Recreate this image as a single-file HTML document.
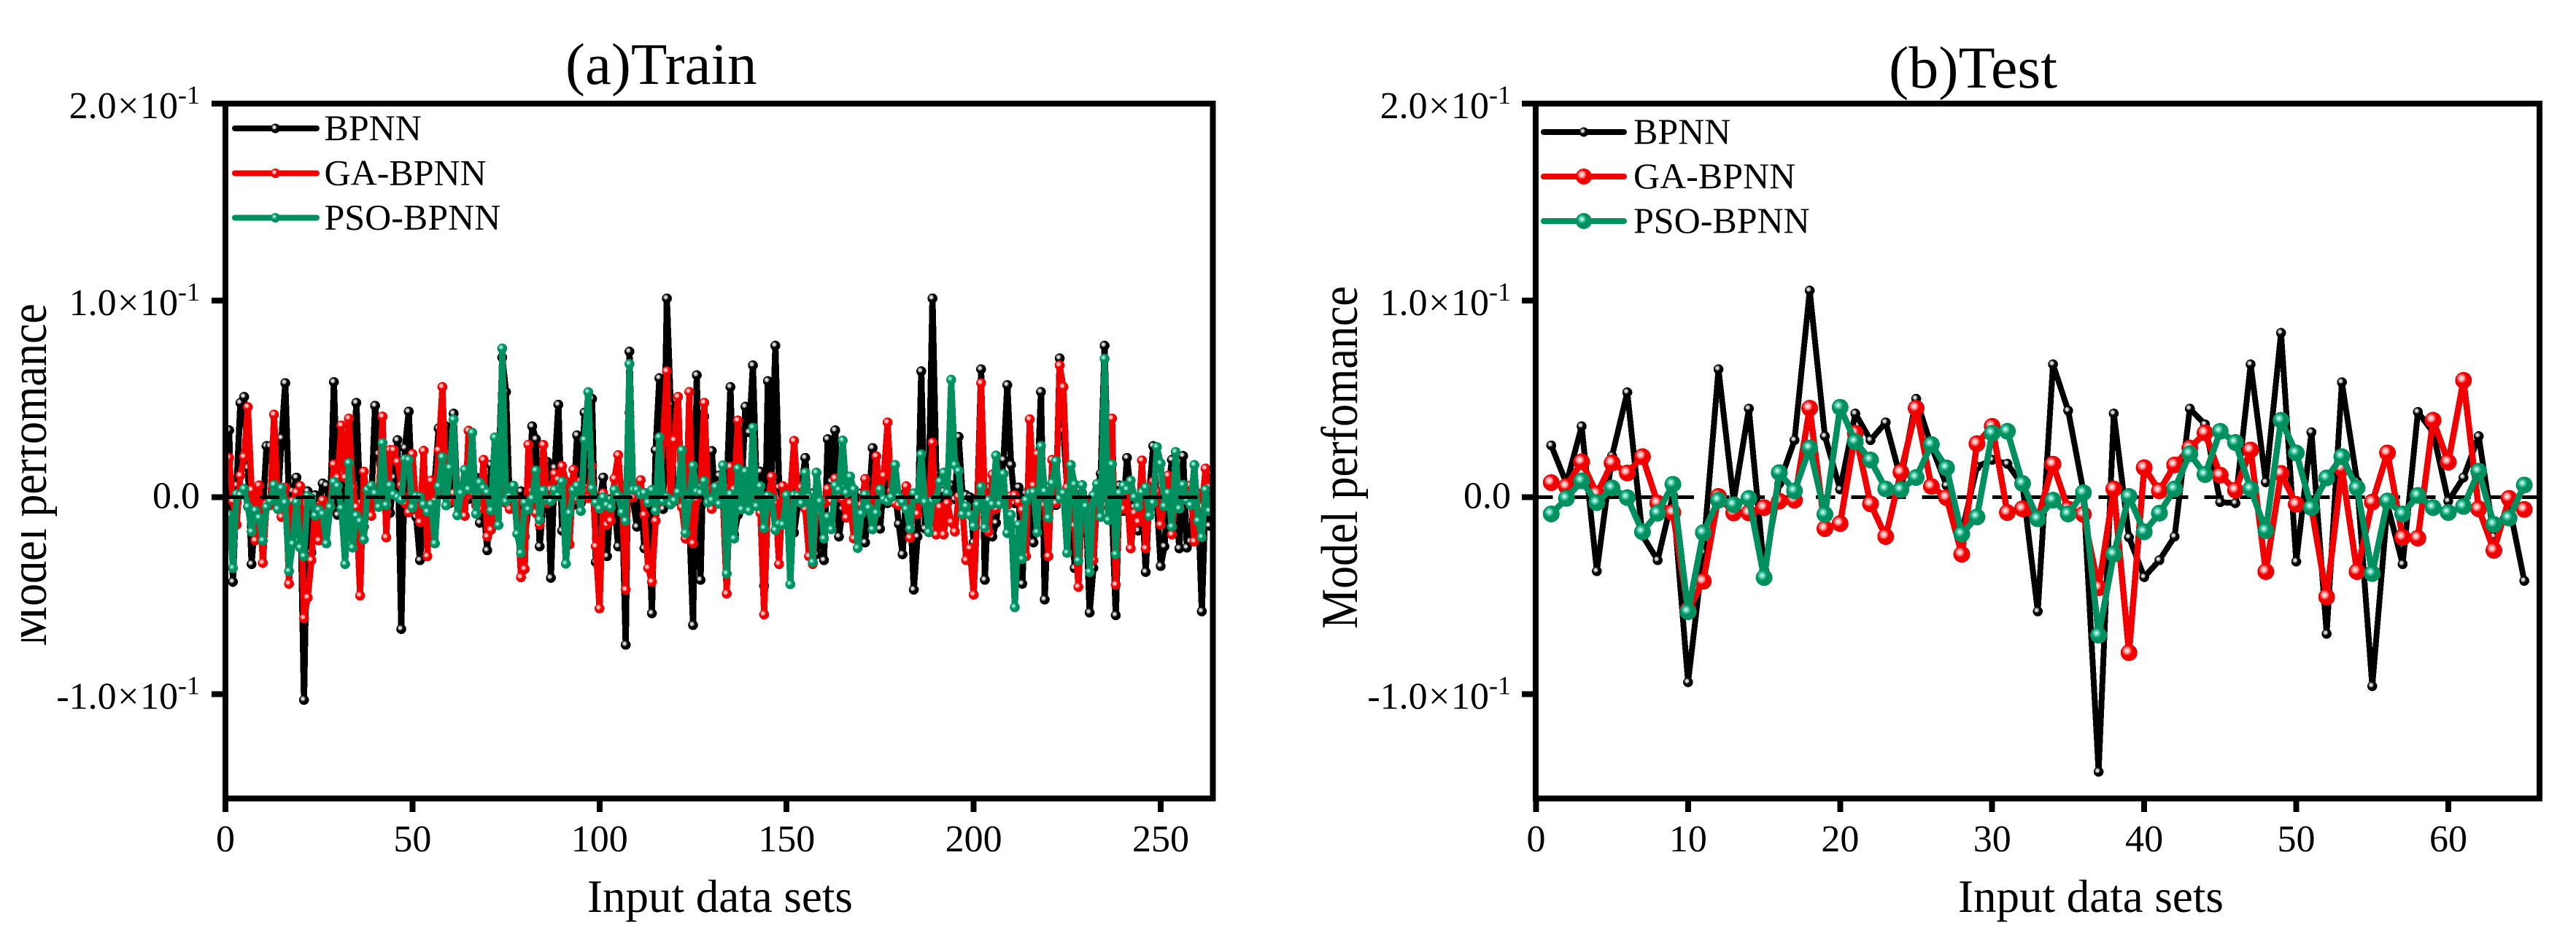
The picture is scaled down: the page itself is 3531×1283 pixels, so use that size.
<!DOCTYPE html>
<html lang="en">
<head>
<meta charset="utf-8">
<title>Model performance: Train and Test</title>
<style>
html,body{margin:0;padding:0;background:#fff;width:3531px;height:1283px;overflow:hidden}
svg{display:block}
text{font-family:"Liberation Serif",serif;fill:#000}
</style>
</head>
<body>
<svg id="chart" xmlns="http://www.w3.org/2000/svg" width="3531" height="1283" viewBox="0 0 3531 1283">
<defs>
<radialGradient id="gBlack" cx=".38" cy=".38" r=".3"><stop offset="0" stop-color="#fff"/><stop offset=".5" stop-color="#bbb"/><stop offset="1" stop-color="#000"/></radialGradient>
<radialGradient id="gRed" cx=".38" cy=".38" r=".3"><stop offset="0" stop-color="#fff"/><stop offset=".5" stop-color="#ffa0a0"/><stop offset="1" stop-color="#f00000"/></radialGradient>
<radialGradient id="gGreen" cx=".38" cy=".38" r=".3"><stop offset="0" stop-color="#fff"/><stop offset=".5" stop-color="#50d0b0"/><stop offset="1" stop-color="#008f5e"/></radialGradient>
<clipPath id="ylabelClipA"><rect x="29" y="300" width="120" height="700"/></clipPath>
</defs>
<rect x="0" y="0" width="3531" height="1283" fill="#fff"/>

<g id="panelA">
<text x="775" y="115" font-size="81">(a)Train</text>
<text x="805" y="1250" font-size="63">Input data sets</text>
<g clip-path="url(#ylabelClipA)">
<text transform="translate(63,886) rotate(-90) scale(1,1.15)" font-size="62">Model perfomance</text>
</g>
<g id="plotA" shape-rendering="crispEdges"></g>
<g fill="none" stroke="#000" shape-rendering="crispEdges">
<path stroke-width="8" d="M290 142H1666"/>
<path stroke-width="8" d="M305 1094.7H1666"/>
<path stroke-width="8" d="M309 138V1098"/>
<path stroke-width="8" d="M1662.5 138V1098"/>
</g>
<g id="ticksA"></g>
<g>
<g>
<path d="M322 176H434" stroke="#000" stroke-width="8" stroke-linecap="round"/>
<circle cx="377.5" cy="176" r="6.5" fill="url(#gBlack)"/>
<text x="444.5" y="192" font-size="50">BPNN</text>
</g>
<g>
<path d="M322 237.5H434" stroke="#f00000" stroke-width="8" stroke-linecap="round"/>
<circle cx="377.5" cy="237.5" r="6.5" fill="url(#gRed)"/>
<text x="444.5" y="253.5" font-size="50">GA-BPNN</text>
</g>
<g>
<path d="M322 298.5H434" stroke="#008f5e" stroke-width="8" stroke-linecap="round"/>
<circle cx="377.5" cy="298.5" r="6.5" fill="url(#gGreen)"/>
<text x="444.5" y="314.5" font-size="50">PSO-BPNN</text>
</g>
</g>
</g>

<g id="panelB">
<text x="2589" y="120" font-size="82">(b)Test</text>
<text x="2684" y="1250" font-size="63">Input data sets</text>
<text transform="translate(1860,862) rotate(-90) scale(1,1.15)" font-size="62">Model perfomance</text>
<g id="plotB" shape-rendering="crispEdges"></g>
<g fill="none" stroke="#000" shape-rendering="crispEdges">
<path stroke-width="8" d="M2086 142H3485"/>
<path stroke-width="8" d="M2101 1094.7H3485"/>
<path stroke-width="8" d="M2105 138V1098"/>
<path stroke-width="8" d="M3481 138V1098"/>
</g>
<g id="ticksB"></g>
<g>
<g>
<path d="M2116 181H2226" stroke="#000" stroke-width="8" stroke-linecap="round"/>
<circle cx="2171" cy="181" r="6.5" fill="url(#gBlack)"/>
<text x="2239" y="197" font-size="50">BPNN</text>
</g>
<g>
<path d="M2116 242H2226" stroke="#f00000" stroke-width="8" stroke-linecap="round"/>
<circle cx="2171" cy="242" r="11" fill="url(#gRed)"/>
<text x="2239" y="258" font-size="50">GA-BPNN</text>
</g>
<g>
<path d="M2116 303H2226" stroke="#008f5e" stroke-width="8" stroke-linecap="round"/>
<circle cx="2171" cy="303" r="11" fill="url(#gGreen)"/>
<text x="2239" y="319" font-size="50">PSO-BPNN</text>
</g>
</g>
</g>
</svg>

<script>
// All performance values are in units of 10^-3.
const trainBPNN = [
34,-43,6,48,51,15,-34,-8,6,-7,26,26,5,-3,30,58,-2,3,10,2,-103,3,-28,1,-4,7,6,-7,58.5,-9,12,-34,10,5,48,-3,-15,4,-3,46.5,22,-4,20,-8,
10,29,-67,25,43.5,-2,-10,-32,-6,-1,1,9,35,2,36,-3,42.5,-2,-4,5,-1,3,10,-13,-4,-27,16.5,-6,10,71,53.5,-4,3,-8,3,-20,-6,36,29.5,-25,-2,18,-41,15,
47,-17,4,2,-4,31.5,-3,43,5,50,-33,-2,10,-30,-1,-4,-25,1,-75,74,-2,-15,1,-26,-2,-59,24,60.5,-6,101,47,-2,3,5,-8,-12,-65,62,-42,41,-2,23.5,-3,11,
-2,5,56,-19,-9,5,46,33,67,3,13,-45,59,10,77,5,-3,-10,3,-18,-4,6,20,-5,2,-29,-3,-32,29.5,8,34,-20,-6,3,-3,1,-4,2,-23,-1,25,-4,-16,8,
-3,5,2,-13.6,-29,3,-2,-47,-20,64,-16,5,101,12,-5,3,0,6,-1,30.7,2,1,0,-23,-2,65,-42,5,-20,-13,4,19,57,16.5,-3,5,-44,2,-4,-23,4,53.5,-52,-2,
-2,-4,70.6,33.7,5,3,-36,-7,2,-4,-58.6,-36,3,12,77,3,-8,-60,6,-7,20,2,-5,-17,2,-38,3,26,-2,-35,-25,3,19,-3,-26,21,-25.6,-22.5,2,-3,-58,2,-14.5
];
const trainGA = [
20,-2,-14,11,20.5,45.8,3.7,-22,6,-33.4,-3.4,-4,42,-2,-10,5,-44,-2,2.5,5.7,-61.5,-51,-32,-5,-22,-1.5,-8,-4,16.7,10,36.5,10,40,5,-5,-50,13,-3,-9.5,3,2,41,-20.4,24,
24,18,6,-3,-7.7,22,-5,-12.6,23.6,-30,8.4,-2,23.9,56,3,-2,2,-3,3,-9.5,33.8,2,-4,-6,19,-20,-16.6,-3,2,6,-3,-6,1,-2,-40.7,-36.5,26.7,3,-8,-14,26.6,-3,4,12,
9,15.8,8,-24,14,-1,8,3,-0.5,15.8,-25,-56.5,2,-14,-12,9.5,21.4,-2,-47,43,0,3,8.7,-9,-36,-43,-12,3,30,64,-3,29,51,-5,-21,53.5,-23.4,-1,5,48,4,-6,-2,6,
-2,-49,15.5,4,39,5,-2,3,-4,2,-8,-59.6,-3,10.5,-3,-34,5.7,-5,1,28.6,1.6,5,-6,-30,-34,-5,-8,-3,4.3,-2,9.6,0,-1,-10.4,-3,-21,-5,-4,9.3,-2,-6,20.8,2,11,
38,3,-3,-4,-2,5.6,-20.6,-3,-8.5,2,3.5,-3,27.8,-19,-5,-19,-3,-12.6,-17.5,0.4,-5,-32,-26,-49.5,-6,58,-3,-17.5,11.5,-6,1,-1,-4,0.6,1,-2.4,-6.4,-30,39.6,6,22,-3,-4,-30,
19,-3,67,56,5,3,-14.5,-45.6,-3,-2,-7,-32,-2,4,-4,3,40,-44.5,1,-6,2,-26,-8,-12.5,18.7,-26,-3,8,2.8,-14,-2,11,-19,1,-4,-1,2,6,-22.5,2,-5,14.6,5
];
const trainPSO = [
-9,-36,1.6,1.2,4.3,-4.8,-17.5,-6.7,-10.4,-22,-5,-2,6.3,-6,4.7,-2.7,-37.6,-23.7,-2.5,-25.6,-30,0.6,-0.6,-9.3,-6.4,-8.5,-23.5,-5,7.8,5.7,-5.6,-34,17.4,-25.6,-9.3,-12.2,-21.5,3.8,5.9,2,-5,27.6,-4,6,
1.4,0.1,-1.2,19.3,19,-5.2,0.6,0.1,-3.7,-7.4,-3.6,-23.5,5.6,20.4,-4.2,15,39.5,-9.2,2.1,14,4,32.8,-8.5,7.5,4.7,2.5,-6.7,30.4,-14.2,75.6,-2.1,0.4,5.9,-18.6,-28.3,-2.7,-6.2,-0.6,13.6,-11.4,3.5,-1,-2,3.8,
0.6,8,-33.8,-8,3.7,5.9,-7,29.2,53.4,4.5,-2.7,-5.8,0,-4,-5.2,3.8,0.7,-7.7,-12,67.7,3.8,3.8,1.4,2.2,-2.7,3.7,-6.8,30.5,-1.9,0.1,-3.7,-1.7,2.6,23.9,-18.2,-0.9,16,2.8,2.2,8.3,-2.7,-1.5,5.3,-3.4,
16.2,-38.8,1.6,-21,14.6,-6.2,13.1,-6.8,35.4,-4.6,5.6,-15.7,0.7,-0.6,-16.7,-13.6,-13.9,1,-44.2,1,0.6,-3.1,12.5,0,-33,12.5,-2.1,-21,-10,-16.3,6,3.8,28.8,2.2,10.5,4,-25.8,-8.3,1.4,-5.4,-16.3,-8,4,-1,
-2,0,16.4,0.2,-2.4,-6,-16,2,-0.4,21.8,-2.5,-17.8,-1.9,-0.6,8,12.5,2.2,59.7,16.4,13.4,-8.7,-4.6,-9,-14.7,-3.8,5.3,-15.5,-1.5,-3.6,21.2,-3.6,11.9,-18.2,-9,-55.9,-13.9,-31.4,-1.5,2.2,2.6,-17.8,26,3,-10.5,
7.2,18.4,-0.6,2.1,-28.3,16.4,6.5,-32.2,6.2,-4.6,-38,1,6.8,-10,70.4,-11.6,16.7,-29,2.1,5.9,4,8.4,0,-4.6,2.6,5,-9.5,-2.8,25.5,17.2,-4.6,2.2,-15,23,-5.8,6.3,-1.5,-4,16.4,-12,-20.3,3.8,-7
];
const testBPNN = [26.3,7,36,-37.6,21,53.3,-19.5,-32,1,-94,-28,65,-2,45,-37,7,29,105,31,4,42.5,29,38,9,50,26,6,-18,15.5,19,17,6,-58,67.5,44,3,-139.5,42.5,-20.4,-40.6,-32,-20,45,37,-2.5,-3,67.5,7.6,83.5,-32.7,33,-69.4,58.4,8,-96,-4,-34,43.3,33,-2,10,31,-20,-4,-42.5];
const testGA = [7.4,5.5,18,1.7,17.4,12.3,20.6,-3,-7.8,-57.3,-42.7,0.4,-8,-8,-5.3,-2,-1.5,45.2,-16,-13.4,32.5,-3.4,-20,12.7,45.2,5.5,-0.2,-29,27.2,36,-7.8,-5.9,-11,16.8,-6,-8.7,-46,4.2,-79,15,3.2,16.4,25,32.7,11.2,3.6,24,-37.8,12.1,-3.6,-5.3,-50.7,14.6,-37.8,-2.5,22.5,-20.4,-20.8,39.1,17.8,59.4,-5.9,-27,-0.6,-6.2];
const testPSO = [-8.5,-0.6,8.3,-2.8,4.7,-0.2,-17.6,-8.1,6.6,-58.2,-18,-1.5,-3.8,-0.6,-40.8,12.5,3.2,25,-8.7,45.7,28.2,18.9,4.2,3.8,10,26.8,14.9,-18.7,-10,32.5,33.5,7,-11,-1.5,-8.5,2.3,-70.1,-28.9,0.4,-17.6,-8.1,4.2,22.1,11.5,33.5,27.8,4.2,-17,39.1,22.5,-5.3,9.8,20.6,4.7,-38.8,-1.9,-8.5,0.9,-5.3,-7.8,-4.7,13.2,-13.8,-10.6,6.2];

const yTickValues = [200,100,0,-100];
const yTickMantissa = ["2.0","1.0","0.0","-1.0"];
const yTickExponent = ["-1","-1","","-1"];
const trainXTicks = [0,50,100,150,200,250];
const testXTicks = [0,10,20,30,40,50,60];

const NS = "http://www.w3.org/2000/svg";
function make(tag, attrs){
  const el = document.createElementNS(NS, tag);
  for (const k in attrs) el.setAttribute(k, attrs[k]);
  return el;
}
function linear(d0,d1,r0,r1){ return v => r0 + (v-d0)*(r1-r0)/(d1-d0); }
const yScale = linear(-154,200,1097,142);

function drawSeries(parent, values, xScale, color, grad, radius, width, key){
  const g = make("g", {});
  
  
  const pts = values.map((v,i) => xScale(i+1).toFixed(2) + "," + yScale(v).toFixed(2)).join(" ");
  const line = make("polyline", {points:pts, fill:"none", stroke:color, "stroke-width":width, "stroke-linejoin":"round", "stroke-linecap":"round"});
  
  
  g.appendChild(line);
  values.forEach((v,i) => {
    const c = make("circle", {cx:xScale(i+1).toFixed(2), cy:yScale(v).toFixed(2), r:radius, fill:"url(#"+grad+")"});
    
    
    g.appendChild(c);
  });
  parent.appendChild(g);
}
function drawZero(parent, x0, x1, key){
  const l = make("line", {x1:x0, x2:x1, y1:yScale(0), y2:yScale(0), stroke:"#000", "stroke-width":5, "stroke-dasharray":"26.5 21.9"});
  
  
  parent.appendChild(l);
}
function drawTicks(parent, xScale, xTicks, axisX, labelRight, key){
  yTickValues.forEach((v,i) => {
    const y = yScale(v);
    if (v !== 200){
      const t = make("line", {x1:axisX-19, x2:axisX, y1:y, y2:y, stroke:"#000", "stroke-width":8, "shape-rendering":"crispEdges"});
      
      
      parent.appendChild(t);
    }
    const hasExp = yTickExponent[i] !== "";
    const txt = make("text", {x:labelRight, y:y + (hasExp ? 20 : 15), "text-anchor":"end", "font-size":52});
    
    
    if (hasExp){
      const a = make("tspan", {}); a.textContent = yTickMantissa[i]; txt.appendChild(a);
      const b = make("tspan", {dx:1.5}); b.textContent = "\u00d7"; txt.appendChild(b);
      const c = make("tspan", {dx:1.5}); c.textContent = "10"; txt.appendChild(c);
      const d = make("tspan", {dy:-20, "font-size":36}); d.textContent = yTickExponent[i]; txt.appendChild(d);
    } else {
      txt.textContent = yTickMantissa[i];
    }
    parent.appendChild(txt);
  });
  xTicks.forEach(v => {
    const x = xScale(v);
    const t = make("line", {x1:x, x2:x, y1:1094, y2:1113, stroke:"#000", "stroke-width":8, "shape-rendering":"crispEdges"});
    
    
    parent.appendChild(t);
    const txt = make("text", {x:x, y:1167, "text-anchor":"middle", "font-size":52});
    
    
    txt.textContent = String(v);
    parent.appendChild(txt);
  });
}

const xTrain = linear(0,264,309,1662.8);
const xTest = linear(0,66,2105.5,3481);
const plotA = document.getElementById("plotA");
const plotB = document.getElementById("plotB");

drawSeries(plotA, trainBPNN, xTrain, "#000", "gBlack", 6.8, 8.5, "train-bpnn");
drawSeries(plotA, trainGA, xTrain, "#f00000", "gRed", 6.8, 8.5, "train-ga-bpnn");
drawSeries(plotA, trainPSO, xTrain, "#008f5e", "gGreen", 6.8, 8.5, "train-pso-bpnn");
drawZero(plotA, 308, 1660, "train");

drawZero(plotB, 2102, 3478, "test");
drawSeries(plotB, testBPNN, xTest, "#000", "gBlack", 6.8, 8, "test-bpnn");
drawSeries(plotB, testGA, xTest, "#f00000", "gRed", 11.5, 8.5, "test-ga-bpnn");
drawSeries(plotB, testPSO, xTest, "#008f5e", "gGreen", 11.5, 8.5, "test-pso-bpnn");

drawTicks(document.getElementById("ticksA"), xTrain, trainXTicks, 309, 274, "train");
drawTicks(document.getElementById("ticksB"), xTest, testXTicks, 2105, 2071, "test");
</script>
</body>
</html>
